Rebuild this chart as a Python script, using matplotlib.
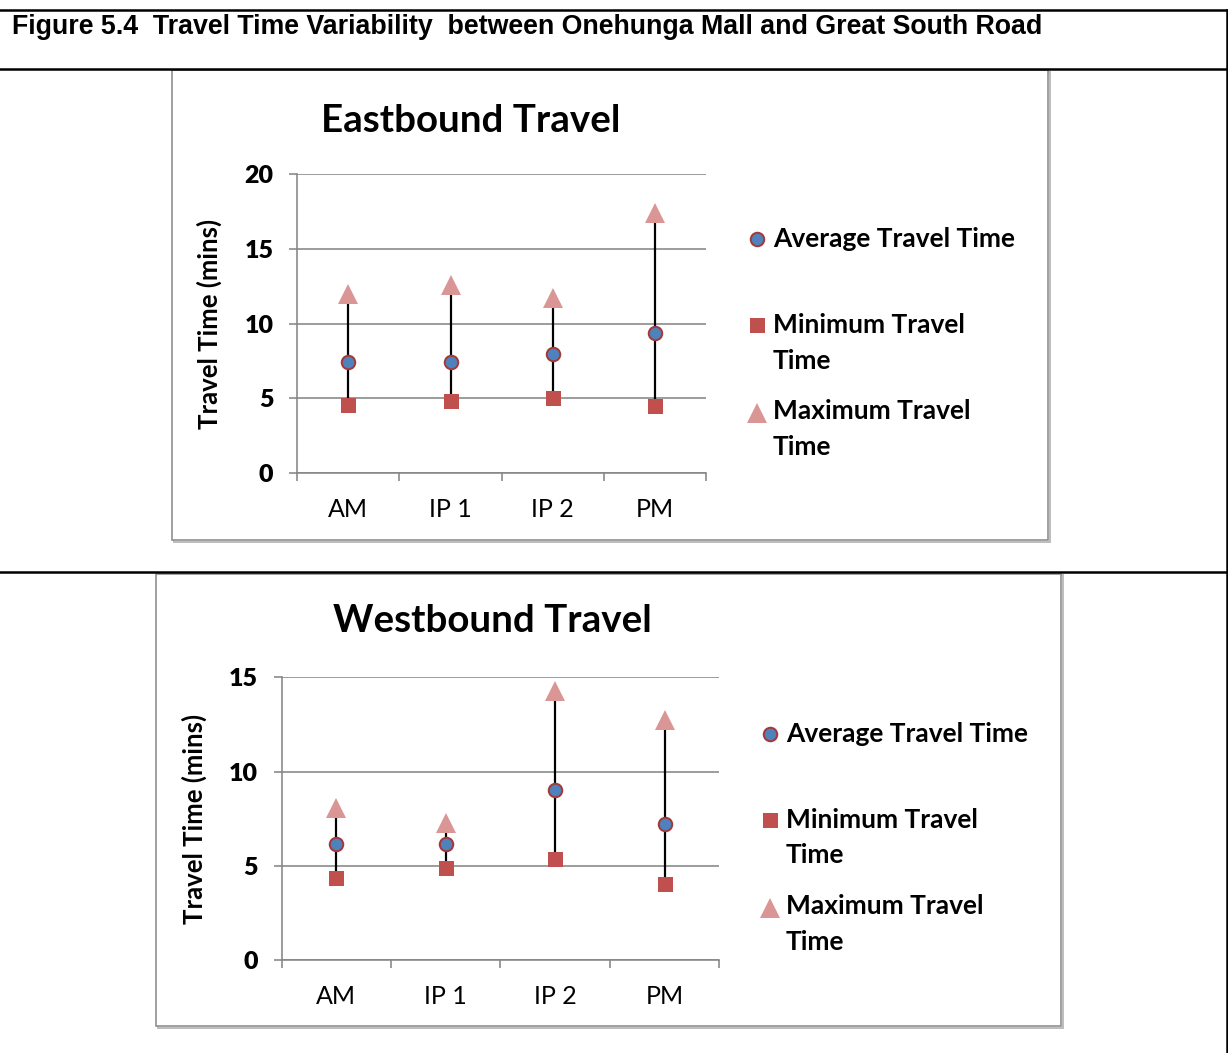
import matplotlib
matplotlib.use("Agg")
import matplotlib.pyplot as plt
from matplotlib.lines import Line2D
from matplotlib.patches import Rectangle

W, H, DPI = 1228, 1053, 100

# Travel times (minutes) per time period
periods = ["AM", "IP 1", "IP 2", "PM"]
east_avg = [7.4, 7.4, 8.0, 9.4]
east_min = [4.55, 4.85, 5.05, 4.5]
east_max = [12.0, 12.6, 11.7, 17.4]
west_avg = [6.15, 6.15, 9.0, 7.2]
west_min = [4.35, 4.9, 5.35, 4.05]
west_max = [8.05, 7.25, 14.25, 12.75]

series_labels = ["Average Travel Time", "Minimum Travel\nTime", "Maximum Travel\nTime"]
figure_title = "Figure 5.4  Travel Time Variability  between Onehunga Mall and Great South Road"

FONT = "Lato"
GRID = "#868686"


def fx(x):
    return x / W


def fy(y):
    return 1 - y / H


def pt(p):
    """pixels -> points"""
    return p * 72 / DPI


AVG_STYLE = dict(marker="o", ms=pt(13.5), mfc="#4F81BD", mec="#A23A37", mew=pt(2), ls="none")
MIN_STYLE = dict(marker="s", ms=pt(15), mfc="#C0504D", mec="#C0504D", mew=0, ls="none")
MAX_STYLE = dict(marker="^", ms=pt(20), mfc="#D99694", mec="#D99694", mew=0, ls="none")

fig = plt.figure(figsize=(W / DPI, H / DPI), dpi=DPI)

# table frame of the report figure
frame_kw = dict(color="black", lw=pt(2.5), transform=fig.transFigure)
fig.add_artist(Line2D([0, 1], [fy(10), fy(10)], **frame_kw))
fig.add_artist(Line2D([0, 1], [fy(69), fy(69)], **frame_kw))
fig.add_artist(Line2D([0, 1], [fy(572), fy(572)], **frame_kw))
fig.add_artist(Line2D([fx(1226.5), fx(1226.5)], [fy(10), 0], **frame_kw))
fig.text(fx(12), fy(34.5), figure_title, family="Liberation Sans", weight="bold",
         fontsize=19.25, va="baseline", ha="left")


def chart(box, plot, ymax, step, avg, mn, mx, title, title_xy, ylabel_x, leg_dx, leg_dy):
    x0, y0, x1, y1 = box
    fig.add_artist(Rectangle((fx(x0 + 1.5), fy(y1 + 1.5)), (x1 - x0) / W, (y1 - y0) / H,
                             transform=fig.transFigure, fc="none", ec="#BEBEBE",
                             lw=pt(2), zorder=-2))
    fig.add_artist(Rectangle((fx(x0), fy(y1)), (x1 - x0) / W, (y1 - y0) / H,
                             transform=fig.transFigure, fc="white", ec="#8C8C8C",
                             lw=pt(1.6), zorder=-1))

    px0, py0, px1, py1 = plot
    ax = fig.add_axes([fx(px0), fy(py1), (px1 - px0) / W, (py1 - py0) / H])
    ax.set_facecolor("none")
    xs = range(len(periods))
    for x, lo, hi in zip(xs, mn, mx):
        ax.plot([x, x], [lo, hi], color="black", lw=pt(2.2), zorder=3, solid_capstyle="butt")
    ax.plot(xs, mn, zorder=4, clip_on=False, **MIN_STYLE)
    ax.plot(xs, mx, zorder=4, clip_on=False, **MAX_STYLE)
    ax.plot(xs, avg, zorder=5, clip_on=False, **AVG_STYLE)

    ax.set_xlim(-0.5, len(periods) - 0.5)
    ax.set_ylim(0, ymax)
    ax.set_yticks(range(0, ymax + 1, step))
    ax.set_xticks(list(xs))
    ax.set_xticks([i - 0.5 for i in range(len(periods) + 1)], minor=True)
    ax.set_xticklabels(periods)
    ax.set_yticklabels([str(v) for v in range(0, ymax + 1, step)])
    for lbl in ax.get_xticklabels():
        lbl.set_fontfamily(FONT)
        lbl.set_fontsize(18)
    for lbl in ax.get_yticklabels():
        lbl.set_fontfamily(FONT)
        lbl.set_fontsize(18)
        lbl.set_fontweight("heavy")
    ax.tick_params(axis="x", which="major", length=0, pad=pt(25))
    ax.tick_params(axis="x", which="minor", length=pt(8), width=pt(1.6), color=GRID)
    ax.tick_params(axis="y", length=pt(8), width=pt(1.6), color=GRID, pad=pt(16))
    ax.grid(axis="y", color=GRID, lw=pt(1.6), zorder=1)
    ax.set_axisbelow(True)
    for s in ("top", "right"):
        ax.spines[s].set_visible(False)
    for s in ("left", "bottom"):
        ax.spines[s].set_color(GRID)
        ax.spines[s].set_linewidth(pt(1.6))
        ax.spines[s].set_zorder(2)
    ax.set_ylabel("Travel Time (mins)", family=FONT, fontsize=18.5, weight="bold")
    ax.yaxis.set_label_coords((ylabel_x - px0) / (px1 - px0), 0.5)

    fig.text(fx(title_xy[0]), fy(title_xy[1]), title, family=FONT, weight="bold",
             fontsize=27.7, ha="center", va="baseline")

    # legend: marker followed by the (possibly wrapped) series name
    styles = [AVG_STYLE, MIN_STYLE, MAX_STYLE]
    marker_y = [239, 325, 413]
    base_y = [247.3, 333.3, 419.5]
    line_gap = 35.5
    for st, my, by, lab in zip(styles, marker_y, base_y, series_labels):
        fig.add_artist(Line2D([fx(757 + leg_dx)], [fy(my + leg_dy)],
                              transform=fig.transFigure, **st))
        for k, line in enumerate(lab.split("\n")):
            fig.text(fx(773 + leg_dx), fy(by + leg_dy + k * line_gap), line, family=FONT,
                     weight="bold", fontsize=19, ha="left", va="baseline")


chart((172, 70, 1048, 540), (297.3, 174.3, 706, 473), 20, 5,
      east_avg, east_min, east_max, "Eastbound Travel", (470.4, 132), 222, 0, 0)
chart((156, 573.5, 1061, 1026), (281.7, 677.3, 719.3, 960), 15, 5,
      west_avg, west_min, west_max, "Westbound Travel", (492.5, 632.3), 207, 13, 494.5)

fig.savefig("out.png", dpi=DPI)
